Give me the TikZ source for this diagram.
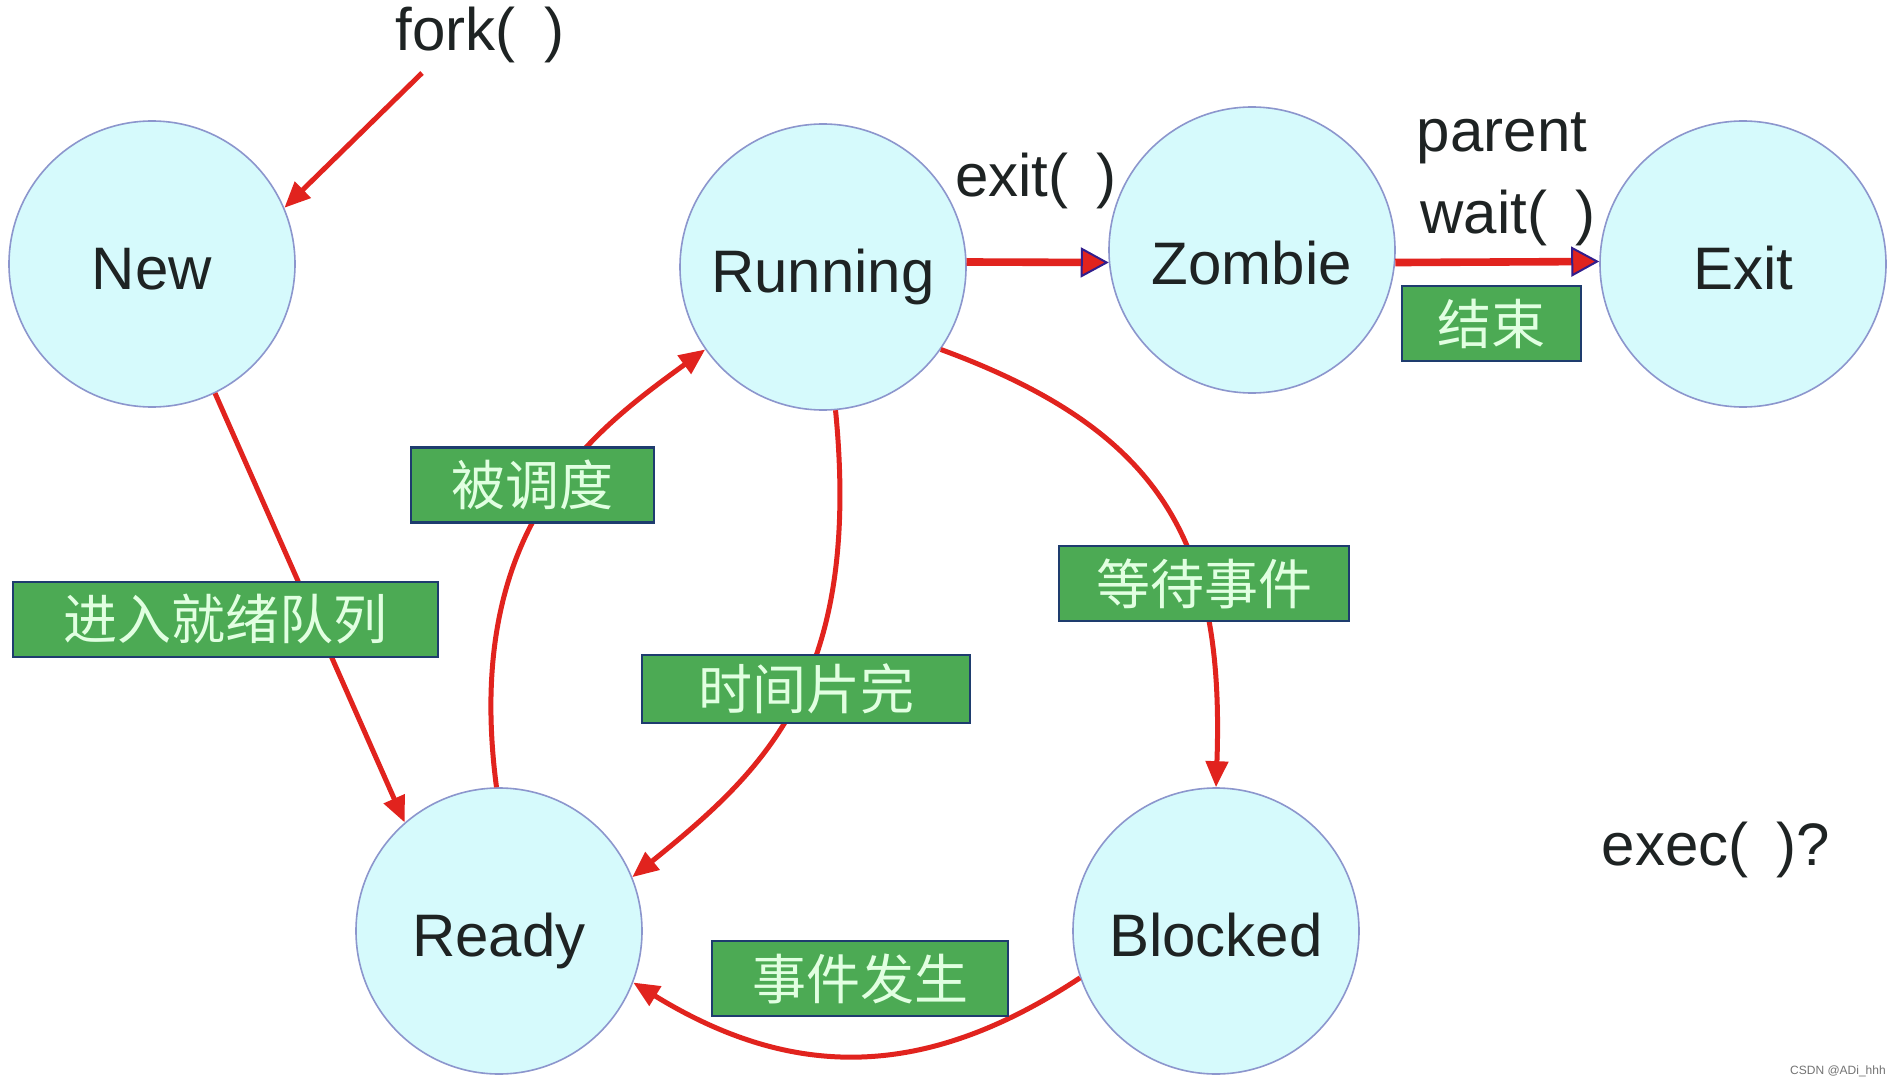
\documentclass[tikz,border=0pt]{standalone}
\usepackage{fontspec}
\setmainfont{Liberation Sans}
\newfontfamily\cjk{Noto Sans CJK SC}
\usetikzlibrary{arrows.meta}
\definecolor{cfill}{RGB}{214,250,252}
\definecolor{cline}{RGB}{140,150,205}
\definecolor{ared}{RGB}{225,35,30}
\definecolor{gfill}{RGB}{76,170,84}
\definecolor{gline}{RGB}{30,60,110}
\definecolor{gtext}{RGB}{225,255,225}
\definecolor{tdark}{RGB}{30,35,35}
\definecolor{tipblue}{RGB}{50,30,140}
\begin{document}
\begin{tikzpicture}[x=0.5pt,y=0.5pt,
  state/.style={circle, draw=cline, line width=0.8pt, fill=cfill, minimum size=143pt, inner sep=0pt, font=\fontsize{30}{36}\selectfont, text=tdark, text height=25.5pt, text depth=0pt},
  lbl/.style={font=\fontsize{30}{36}\selectfont, text=tdark, inner sep=0pt, anchor=base},
  gbox/.style={draw=gline, line width=1.2pt, fill=gfill, text=gtext, font=\cjk\fontsize{27}{30}\selectfont, minimum height=37.5pt, inner sep=0pt},
  edgeline/.style={draw=ared, line width=2.5pt, -{Triangle[length=13pt,width=11pt]}},
  bigedge/.style={draw=ared, line width=3.8pt, -{Triangle[length=14pt,width=15pt,line width=1pt,color=tipblue,fill=ared]}}
]
\fill[white] (0,0) rectangle (1902,-1086);
\useasboundingbox (0,0) rectangle (1902,-1086);

% states
\node[state] (new)   at (152,-264)  {New};
\node[state] (run)   at (823,-267)  {Running};
\node[state, text height=34pt] (zom) at (1252,-250) {Zombie};
\node[state] (exit)  at (1743,-264) {Exit};
\node[state] (ready) at (499,-931)  {Ready};
\node[state] (blk)   at (1216,-931) {Blocked};

% plain labels
\node[lbl] (fork)   at (480,-51)   {fork(\hspace{0.2em} )};
\node[lbl] (exitl)  at (1036,-197) {exit(\hspace{0.2em} )};
\node[lbl] (parent) at (1502,-152) {parent};
\node[lbl] (wait)   at (1508,-234) {wait(\hspace{0.2em} )};
\node[lbl] (exec)   at (1716,-865) {exec(\hspace{0.2em} )?};
\node[anchor=base, inner sep=0pt, text=black!55, font=\fontsize{6}{7}\selectfont] (wm) at (1838,-1074) {CSDN @ADi\_hhh};

% connectors
\coordinate (fs) at (422,-73);
\draw[edgeline] (fs) -- (new.23);
\draw[edgeline] (new.-64) -- (ready.131);
\draw[edgeline] (ready.91) .. controls (462,-525) and (595,-430) .. (run.215);
\draw[edgeline] (run.-85) .. controls (862,-680) and (765,-770) .. (ready.22);
\draw[edgeline] (run.-35) .. controls (1160,-430) and (1225,-540) .. (blk.90);
\draw[edgeline] (blk.199) .. controls (924,-1081) and (792,-1080) .. (ready.-21);
\draw[bigedge] (run.2) -- (zom.185);
\draw[bigedge] (zom.-5) -- (exit.179);

% green labels
\node[gbox, minimum width=89.5pt]  (bjs)  at (1491.5,-323.5) {结束};
\node[gbox, minimum width=121.5pt] (bdd)  at (532.5,-485)    {被调度};
\node[gbox, minimum width=212.5pt] (jrjx) at (225.5,-619.5)  {进入就绪队列};
\node[gbox, minimum width=145pt]   (ddsj) at (1204,-583.5)   {等待事件};
\node[gbox, minimum width=164pt, minimum height=34pt] (sjpw) at (806,-689) {时间片完};
\node[gbox, minimum width=148pt]   (sjfs) at (860,-978.5)    {事件发生};
\end{tikzpicture}
\end{document}
